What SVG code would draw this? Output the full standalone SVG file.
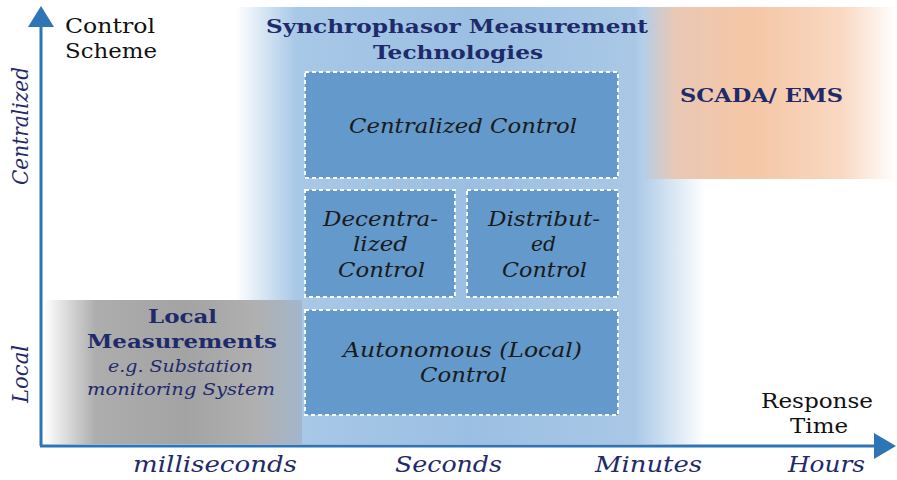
<svg xmlns="http://www.w3.org/2000/svg" width="897" height="480" viewBox="0 0 897 480">
<style>
.t{font-family:"DejaVu Serif","Liberation Serif",serif;}
.nav{fill:#1f2a6b;}
.b{font-weight:bold;font-size:19px;}
.i{font-style:italic;}
.box{fill:#6399cb;stroke:#fff;stroke-width:2;stroke-dasharray:4 3;}
.bt{font-size:20px;font-style:italic;fill:#1a1a1a;}
.ax{font-size:22px;font-style:italic;}
</style>
<defs>
<linearGradient id="gBlue" x1="0" x2="1" y1="0" y2="0">
<stop offset="0" stop-color="#ffffff"/>
<stop offset="0.13" stop-color="#a8c8e7"/>
<stop offset="0.5" stop-color="#9bbfe2"/>
<stop offset="0.85" stop-color="#a9c8e6"/>
<stop offset="1" stop-color="#ffffff"/>
</linearGradient>
<linearGradient id="gOr" x1="0" x2="1" y1="0" y2="0">
<stop offset="0" stop-color="#b9cde3"/>
<stop offset="0.12" stop-color="#e9c8b5"/>
<stop offset="0.42" stop-color="#f5c6a5"/>
<stop offset="0.78" stop-color="#f9d8c2"/>
<stop offset="1" stop-color="#ffffff"/>
</linearGradient>
<linearGradient id="gGr" x1="0" x2="1" y1="0" y2="0">
<stop offset="0" stop-color="#ffffff"/>
<stop offset="0.2" stop-color="#adadad"/>
<stop offset="0.55" stop-color="#a3a3a3"/>
<stop offset="0.82" stop-color="#b0b0b0"/>
<stop offset="1" stop-color="#a3b6cb"/>
</linearGradient>
</defs>

<g id="bands">
<rect x="235" y="7" width="470" height="437" fill="url(#gBlue)"/>
<rect x="645" y="7" width="252" height="172" fill="url(#gOr)"/>
<rect x="44" y="300" width="258" height="144" fill="url(#gGr)"/>
</g>

<g id="connectors">
<line x1="41" y1="446" x2="41" y2="24" stroke="#2e75b6" stroke-width="3"/>
<path d="M28,27 L41,6 L54,27 z" fill="#2e75b6"/>
<line x1="40" y1="446" x2="876" y2="446" stroke="#2e75b6" stroke-width="3"/>
<path d="M874,433 L896,446 L874,459 z" fill="#2e75b6"/>
</g>

<g id="centralized">
<rect class="box" x="305" y="72" width="313" height="106"/>
<text class="t bt" x="349" y="133" textLength="228" lengthAdjust="spacingAndGlyphs">Centralized Control</text>
</g>
<g id="decentralized">
<rect class="box" x="305" y="190" width="150" height="107"/>
<text class="t bt"><tspan x="323" y="226" textLength="115" lengthAdjust="spacingAndGlyphs">Decentra-</tspan><tspan x="353" y="251" textLength="55" lengthAdjust="spacingAndGlyphs">lized</tspan><tspan x="338" y="277" textLength="87" lengthAdjust="spacingAndGlyphs">Control</tspan></text>
</g>
<g id="distributed">
<rect class="box" x="467" y="190" width="151" height="107"/>
<text class="t bt"><tspan x="488" y="226" textLength="112" lengthAdjust="spacingAndGlyphs">Distribut-</tspan><tspan x="531" y="251" textLength="25" lengthAdjust="spacingAndGlyphs">ed</tspan><tspan x="502" y="277" textLength="85" lengthAdjust="spacingAndGlyphs">Control</tspan></text>
</g>
<g id="autonomous">
<rect class="box" x="305" y="310" width="313" height="105"/>
<text class="t bt"><tspan x="343" y="357" textLength="239" lengthAdjust="spacingAndGlyphs">Autonomous (Local)</tspan><tspan x="420" y="382" textLength="87" lengthAdjust="spacingAndGlyphs">Control</tspan></text>
</g>

<g id="synchrophasor">
<text class="t nav b"><tspan x="266" y="33" textLength="382" lengthAdjust="spacingAndGlyphs">Synchrophasor Measurement</tspan><tspan x="373" y="59" textLength="170" lengthAdjust="spacingAndGlyphs">Technologies</tspan></text>
</g>
<g id="scada">
<text class="t nav b" x="680" y="102" textLength="163" lengthAdjust="spacingAndGlyphs">SCADA/ EMS</text>
</g>
<g id="local-measurements">
<text class="t nav b"><tspan x="148" y="323" textLength="69" lengthAdjust="spacingAndGlyphs">Local</tspan><tspan x="87" y="348" textLength="190" lengthAdjust="spacingAndGlyphs">Measurements</tspan></text>
<text class="t nav i" font-size="17"><tspan x="108" y="372" textLength="145" lengthAdjust="spacingAndGlyphs">e.g. Substation</tspan><tspan x="87" y="395" textLength="188" lengthAdjust="spacingAndGlyphs">monitoring System</tspan></text>
</g>

<g id="labels">
<text class="t" font-size="20" fill="#111"><tspan x="65" y="33" textLength="90" lengthAdjust="spacingAndGlyphs">Control</tspan><tspan x="65" y="58" textLength="92" lengthAdjust="spacingAndGlyphs">Scheme</tspan></text>
<text class="t" font-size="20" fill="#111"><tspan x="761" y="408" textLength="112" lengthAdjust="spacingAndGlyphs">Response</tspan><tspan x="790" y="433" textLength="58" lengthAdjust="spacingAndGlyphs">Time</tspan></text>
<text class="t nav ax" font-size="27" transform="translate(28,185) rotate(-90)" textLength="118" lengthAdjust="spacingAndGlyphs">Centralized</text>
<text class="t nav ax" font-size="27" transform="translate(28,403) rotate(-90)" textLength="58" lengthAdjust="spacingAndGlyphs">Local</text>
<text class="t nav ax" x="133" y="472" textLength="164" lengthAdjust="spacingAndGlyphs">milliseconds</text>
<text class="t nav ax" x="395" y="472" textLength="107" lengthAdjust="spacingAndGlyphs">Seconds</text>
<text class="t nav ax" x="595" y="472" textLength="107" lengthAdjust="spacingAndGlyphs">Minutes</text>
<text class="t nav ax" x="788" y="472" textLength="77" lengthAdjust="spacingAndGlyphs">Hours</text>
</g>
</svg>
